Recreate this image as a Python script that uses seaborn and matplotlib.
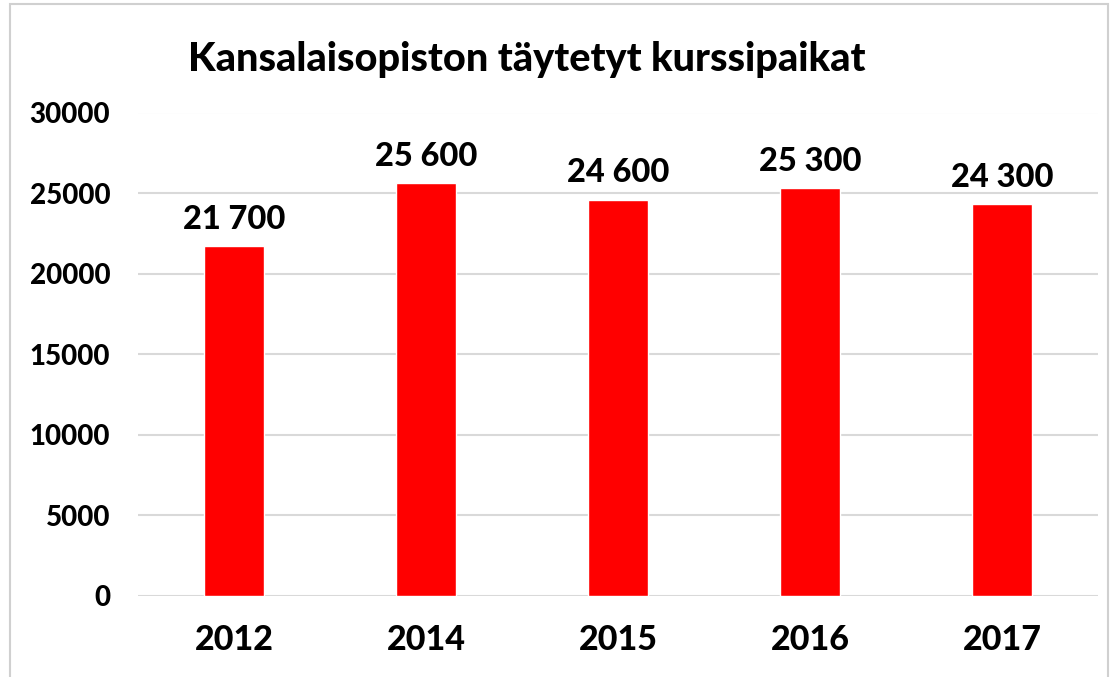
import pandas as pd
from matplotlib import pyplot as plt
import matplotlib.patches as mpatches
import seaborn as sns

# Tiedot
years = ["2012", "2014", "2015", "2016", "2017"]
places = [21700, 25600, 24600, 25300, 24300]
bar_labels = ["21 700", "25 600", "24 600", "25 300", "24 300"]
yticks = [0, 5000, 10000, 15000, 20000, 25000, 30000]

df = pd.DataFrame({"Vuosi": years, "Paikat": places})

sns.set_style("white")
plt.rcParams['font.family'] = ['Lato', 'DejaVu Sans']
plt.rcParams['text.color'] = 'black'
plt.rcParams['xtick.color'] = 'black'
plt.rcParams['ytick.color'] = 'black'
W = 900  # lihavointi

fig = plt.figure(figsize=(11.15, 6.77), dpi=100)
ax = fig.add_axes([138 / 1115, 1 - 596 / 677, 960 / 1115, (596 - 112.5) / 677])

sns.barplot(data=df, x="Vuosi", y="Paikat", color="#ff0000", saturation=1,
            width=0.31, ax=ax)

ax.set_ylim(0, 30000)
ax.set_xlim(-0.5, 4.5)
ax.set_yticks(yticks)
ax.set_yticklabels([str(t) for t in yticks], fontsize=20, fontweight=W)
ax.set_xticks(range(len(years)))
ax.set_xticklabels(years, fontsize=24.5, fontweight=W)
ax.tick_params(axis="y", length=0, pad=20)
ax.tick_params(axis="x", length=0, pad=20)
ax.set_xlabel("")
ax.set_ylabel("")
ax.yaxis.grid(True, color="#d9d9d9", linewidth=1.5)
ax.set_axisbelow(True)
for s in ax.spines.values():
    s.set_visible(False)

ax.bar_label(ax.containers[0], labels=bar_labels, padding=9,
             fontsize=23.5, fontweight=W, color="black")

fig.text(527 / 1115, 1 - 60 / 677, "Kansalaisopiston täytetyt kurssipaikat",
         ha="center", va="center", fontsize=28.5, fontweight=W, color="black")

# Kehys
fig.patches.append(mpatches.Rectangle((10 / 1115, -0.01), 1098 / 1115, 1 - 4 / 677 + 0.01,
                                      transform=fig.transFigure, fill=False,
                                      edgecolor="#d0d0d0", linewidth=1.5))

fig.savefig("out.png", dpi=100)
